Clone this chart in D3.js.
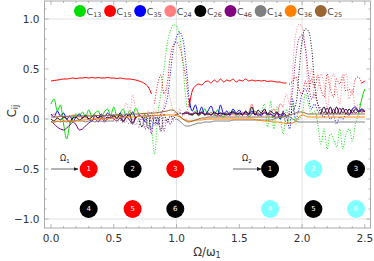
<!DOCTYPE html>
<html>
<head>
<meta charset="utf-8">
<script src="https://cdn.jsdelivr.net/npm/d3@7"></script>
<style>
  body { margin: 0; background: #fff; }
  text { font-family: "DejaVu Sans", sans-serif; }
</style>
</head>
<body>
<script>
// chart size
var outerWidth = 374;
var outerHeight = 261;

var margin = {top: 1, right: 3.5, bottom: 33, left: 44.5},
    width = outerWidth - margin.left - margin.right,
    height = outerHeight - margin.top - margin.bottom;

// data: omega grid (step 0.025 from 0 to 2.5) and correlation series
var omega = d3.range(0, 101).map(function(i) { return i * 0.025; });

var c13 = [0.15,0.20,0.08,0.14,-0.05,-0.20,-0.05,0.02,0.05,0.03,
  0.07,0.02,0.09,0.03,0.06,0.08,0.02,0.07,0.10,0.04,
  0.12,0.03,0.06,0.10,0.02,0.08,0.04,0.11,0.05,0.02,
  0.06,-0.05,-0.12,-0.35,0.05,0.25,0.50,0.75,0.88,0.94,
  0.93,0.82,0.55,0.20,0.05,0.04,0.08,0.03,0.06,0.10,
  0.04,0.07,0.03,0.09,0.05,0.02,0.06,0.04,0.08,0.03,
  0.06,0.04,0.07,0.02,0.05,0.08,0.03,0.06,0.15,-0.08,
  0.18,-0.10,0.12,0.02,-0.15,0.10,-0.05,0.15,-0.05,0.00,
  0.05,0.25,0.15,0.05,0.08,-0.05,-0.25,-0.10,-0.30,-0.15,
  -0.20,-0.28,-0.10,-0.30,-0.15,-0.10,-0.22,-0.05,0.05,0.20,
  0.30];
var c15 = [0.38,0.385,0.39,0.395,0.40,0.40,0.405,0.41,0.405,0.41,
  0.41,0.415,0.41,0.415,0.41,0.415,0.41,0.41,0.415,0.41,
  0.41,0.405,0.41,0.405,0.40,0.40,0.395,0.39,0.38,0.37,
  0.35,0.32,0.25,0.16,0.35,0.44,0.25,0.35,0.62,0.74,
  0.77,0.72,0.58,0.40,0.12,0.28,0.33,0.35,0.34,0.37,
  0.38,0.36,0.39,0.37,0.40,0.37,0.39,0.38,0.40,0.37,
  0.39,0.38,0.40,0.38,0.39,0.38,0.385,0.38,0.385,0.375,
  0.38,0.375,0.37,0.37,0.36,0.36,0.35,0.38,0.42,0.30,
  0.25,0.38,0.28,0.40,0.32,0.44,0.30,0.22,0.45,0.30,
  0.22,0.40,0.35,0.44,0.28,0.30,0.25,0.40,0.42,0.36,
  0.38];
var c35 = [0.05,0.02,0.08,0.03,0.06,0.00,0.03,-0.02,0.02,0.05,
  0.01,0.04,0.00,-0.02,0.03,0.01,0.05,0.02,0.06,0.03,
  0.04,0.00,0.06,0.02,0.05,0.03,0.07,0.01,0.04,0.02,
  -0.03,0.05,-0.10,0.04,-0.05,0.06,0.10,0.20,0.45,0.70,
  0.82,0.87,0.80,0.55,0.20,0.08,0.14,0.05,0.12,0.04,
  0.08,0.13,0.05,0.03,0.14,0.05,0.08,0.04,0.10,0.06,
  0.09,0.04,0.07,0.05,0.08,0.04,0.06,0.03,0.07,0.05,
  0.05,0.02,0.06,0.00,0.05,0.02,-0.10,0.20,0.00,0.10,
  0.25,0.30,0.22,0.10,0.15,0.08,0.05,0.02,0.06,0.00,
  0.03,-0.05,0.02,0.00,0.06,0.04,0.10,0.12,0.08,0.10,
  0.08];
var c24 = [0.03,0.05,0.02,0.04,0.01,0.03,0.02,0.04,0.03,0.02,
  0.03,0.01,0.04,0.02,0.03,0.01,0.02,0.03,0.01,0.02,
  0.02,0.05,0.01,0.08,0.16,0.04,0.24,0.10,0.03,0.05,
  0.02,0.08,-0.02,0.10,0.05,0.03,0.15,0.30,0.20,0.08,
  0.05,0.10,0.03,0.06,0.04,0.05,0.07,0.04,0.06,0.05,
  0.04,0.06,0.05,0.03,0.06,0.04,0.05,0.07,0.04,0.05,
  0.06,0.04,0.05,0.07,0.15,0.05,0.06,0.04,0.08,0.05,
  0.06,0.10,0.05,0.15,0.12,0.25,0.15,0.50,0.85,0.95,
  0.92,0.70,0.35,0.50,0.20,0.30,0.45,0.35,0.10,0.35,
  0.45,0.30,0.15,0.40,0.45,0.20,0.30,0.10,0.15,0.10,
  0.08];
var c26 = [0.00,-0.02,0.01,-0.01,0.02,0.00,-0.03,0.01,0.02,-0.01,
  0.01,0.03,0.00,0.02,0.04,0.01,0.03,0.00,0.02,0.01,
  0.03,0.01,0.04,-0.02,0.02,0.05,-0.04,0.03,0.00,-0.08,
  0.04,-0.10,0.06,-0.05,0.02,-0.12,0.05,-0.03,0.03,0.00,
  0.05,0.06,0.05,0.06,0.05,0.04,0.06,0.05,0.07,0.04,
  0.06,0.04,0.07,0.05,0.06,0.05,0.04,0.06,0.07,0.05,
  0.06,0.04,0.08,0.05,0.12,0.04,0.09,0.06,0.10,0.05,
  0.08,0.05,0.07,0.04,0.06,0.03,0.05,0.08,0.15,0.45,
  0.78,0.90,0.88,0.72,0.35,0.15,0.05,0.12,0.05,0.12,
  0.05,0.12,0.05,0.11,0.05,0.10,0.06,0.10,0.07,0.09,
  0.07];
var c46 = [-0.02,-0.05,-0.08,-0.10,-0.11,-0.09,-0.06,-0.03,-0.06,-0.11,
  -0.10,-0.07,-0.04,-0.02,0.00,-0.03,0.01,-0.02,0.00,0.02,
  0.00,-0.02,0.01,-0.03,0.02,-0.01,-0.05,0.03,-0.08,0.02,
  -0.10,0.04,-0.15,0.02,-0.06,0.05,-0.12,0.00,-0.05,0.03,
  0.04,0.06,0.05,0.07,0.06,0.05,0.06,0.04,0.06,0.05,
  0.05,0.04,0.06,0.05,0.03,0.06,0.05,0.04,0.06,0.05,
  0.04,0.06,0.05,0.04,0.06,0.05,0.04,0.05,0.06,0.04,
  0.05,0.03,0.06,0.02,0.08,-0.05,0.10,0.30,0.62,0.80,
  0.84,0.72,0.45,0.20,0.25,0.15,0.10,0.06,0.11,0.05,
  0.10,0.05,0.11,0.06,0.10,0.05,0.09,0.06,0.08,0.07,
  0.08];
var c14 = [-0.03,-0.03,-0.02,-0.03,-0.02,-0.03,-0.02,-0.03,-0.02,-0.02,
  -0.02,-0.03,-0.02,-0.02,-0.03,-0.02,-0.02,-0.03,-0.02,-0.02,
  -0.02,-0.03,-0.01,-0.04,-0.02,-0.05,0.00,-0.06,-0.01,-0.08,
  0.01,-0.10,-0.02,-0.07,0.02,-0.12,-0.03,0.00,-0.05,-0.02,
  0.00,-0.02,-0.05,-0.07,-0.07,-0.06,-0.05,-0.04,-0.04,-0.03,
  -0.03,-0.03,-0.02,-0.02,-0.02,-0.02,-0.02,-0.02,-0.01,-0.01,
  -0.01,-0.01,-0.01,-0.01,-0.01,-0.01,-0.01,-0.01,-0.01,-0.01,
  -0.01,0.00,0.01,0.02,0.03,0.03,0.02,0.00,-0.02,-0.03,
  -0.03,-0.03,-0.03,-0.03,-0.03,-0.03,-0.03,-0.03,-0.03,-0.03,
  -0.03,-0.03,-0.03,-0.03,-0.03,-0.03,-0.03,-0.03,-0.03,-0.03,
  -0.03];
var c36 = [-0.03,-0.03,-0.025,-0.025,-0.02,-0.02,-0.02,-0.015,-0.015,-0.01,
  -0.01,-0.01,-0.005,-0.005,0.00,0.00,0.00,0.005,0.005,0.01,
  0.01,0.01,0.015,0.015,0.02,0.02,0.02,0.025,0.025,0.03,
  0.03,0.03,0.03,0.035,0.035,0.04,0.04,0.04,0.04,0.04,
  0.035,0.02,0.00,-0.01,-0.02,-0.02,-0.015,-0.01,-0.01,-0.005,
  0.00,0.00,0.00,0.00,0.00,0.00,0.00,0.00,0.00,0.00,
  0.00,0.00,0.00,0.00,0.00,-0.005,-0.01,-0.015,-0.02,-0.02,
  -0.025,-0.03,-0.03,-0.035,-0.04,-0.045,-0.045,-0.04,-0.02,0.02,
  0.04,0.03,0.02,0.02,0.02,0.02,0.02,0.02,0.02,0.02,
  0.02,0.02,0.02,0.02,0.02,0.02,0.02,0.02,0.02,0.02,
  0.02];
var c25 = [0.02,0.02,0.02,0.025,0.025,0.025,0.03,0.03,0.03,0.03,
  0.03,0.03,0.03,0.03,0.035,0.035,0.035,0.035,0.035,0.04,
  0.04,0.04,0.04,0.04,0.045,0.045,0.05,0.05,0.05,0.055,
  0.055,0.06,0.06,0.06,0.065,0.07,0.075,0.08,0.09,0.09,
  0.06,0.03,0.00,-0.02,-0.03,-0.02,-0.01,0.00,0.01,0.01,
  0.02,0.02,0.02,0.02,0.02,0.02,0.02,0.02,0.02,0.02,
  0.02,0.02,0.02,0.02,0.02,0.02,0.02,0.02,0.02,0.02,
  0.02,0.02,0.02,0.02,0.02,0.03,0.04,0.05,0.06,0.07,
  0.07,0.06,0.05,0.05,0.05,0.05,0.05,0.05,0.05,0.05,
  0.05,0.05,0.05,0.05,0.05,0.05,0.05,0.05,0.05,0.05,
  0.05];

var seriesNames = ["13","15","35","24","26","46","14","36","25"];
var seriesValues = [c13, c15, c35, c24, c26, c46, c14, c36, c25];
// omega ranges where each series is drawn as scattered dots
var dottedRanges = [
  [[0.75, 1.125], [1.675, 2.45]],
  [[0.825, 1.1], [1.9, 2.475]],
  [[0.75, 1.1], [1.85, 2.35]],
  [[0.55, 1.1], [1.85, 2.5]],
  [[0.7, 1.05], [1.9, 2.15]],
  [[0.7, 1.05], [1.85, 2.15]],
  [[0.5, 1.0]],
  [],
  []
];

// qubit diagram: omega position, row value, node number, state
var nodeOmega = [0.3, 0.65, 0.99, 0.3, 0.65, 0.99,
                 1.745, 2.09, 2.43, 1.745, 2.09, 2.43];
var nodeRow = [-0.5, -0.5, -0.5, -0.9, -0.9, -0.9,
               -0.5, -0.5, -0.5, -0.9, -0.9, -0.9];
var nodeNumber = [1, 2, 3, 4, 5, 6, 1, 2, 3, 4, 5, 6];
var nodeState = ["a", "b", "a", "b", "a", "b", "b", "c", "b", "c", "b", "c"];
var arrowFrom = [0.0, 1.45];
var arrowTo = [0.215, 1.675];
var arrowLabel = ["1", "2"];

var xTicks = [0.0, 0.5, 1.0, 1.5, 2.0, 2.5];
var yTicks = [-1.0, -0.5, 0.0, 0.5, 1.0];

var colors = ["#00dd00", "#ff0000", "#0000ff", "#ff8080", "#000000",
              "#800080", "#808080", "#ff8000", "#996633"];
var stateColor = d3.scaleOrdinal().domain(["a", "b", "c"])
    .range(["#ff0000", "#000000", "#80ffff"]);

// scales
var x = d3.scaleLinear().domain([-0.052, 2.545]).range([0, width]);
var y = d3.scaleLinear().domain([-1.09, 1.18]).range([height, 0]);

var svg = d3.select("body").append("svg")
    .attr("width", outerWidth)
    .attr("height", outerHeight);

var g = svg.append("g")
    .attr("transform", "translate(" + margin.left + "," + margin.top + ")");

// grid lines
g.selectAll(".hgrid").data([-1, 0, 1]).enter().append("line")
    .attr("x1", 0).attr("x2", width)
    .attr("y1", function(d) { return y(d); }).attr("y2", function(d) { return y(d); })
    .attr("stroke", "#e2e2e2").attr("stroke-width", 1);
g.selectAll(".vgrid").data([1, 2]).enter().append("line")
    .attr("y1", 0).attr("y2", height)
    .attr("x1", function(d) { return x(d); }).attr("x2", function(d) { return x(d); })
    .attr("stroke", "#e2e2e2").attr("stroke-width", 1);

var plot = g.append("g").attr("clip-path", "url(#clip)");
svg.append("defs").append("clipPath").attr("id", "clip")
  .append("rect").attr("width", width).attr("height", height);

function inside(v, ranges) {
  return ranges.some(function(r) { return v > r[0] && v < r[1]; });
}
function onRange(v, ranges) {
  return ranges.some(function(r) { return v >= r[0] - 1e-9 && v <= r[1] + 1e-9; });
}

seriesValues.forEach(function(vals, k) {
  var pts = omega.map(function(o, i) { return [o, vals[i]]; });
  var ranges = dottedRanges[k];
  var solid = d3.line()
      .defined(function(d) { return !inside(d[0], ranges); })
      .x(function(d) { return x(d[0]); })
      .y(function(d) { return y(d[1]); })
      .curve(d3.curveMonotoneX);
  plot.append("path").datum(pts)
      .attr("d", solid)
      .attr("fill", "none")
      .attr("stroke", colors[k])
      .attr("stroke-width", 1);
  if (ranges.length) {
    var dotted = d3.line()
        .defined(function(d) { return onRange(d[0], ranges); })
        .x(function(d) { return x(d[0]); })
        .y(function(d) { return y(d[1]); })
        .curve(d3.curveCatmullRom);
    plot.append("path").datum(pts)
        .attr("d", dotted)
        .attr("fill", "none")
        .attr("stroke", colors[k])
        .attr("stroke-width", 1.2)
        .attr("stroke-linecap", "round")
        .attr("stroke-opacity", 0.85)
        .attr("stroke-dasharray", "0.01,2.6");
  }
});

// arrows and labels for the drive frequencies
svg.append("defs").append("marker")
    .attr("id", "arrow").attr("viewBox", "0 0 10 10")
    .attr("refX", 9).attr("refY", 5)
    .attr("markerWidth", 6).attr("markerHeight", 6)
    .attr("orient", "auto")
  .append("path").attr("d", "M0,1 L10,5 L0,9 Z").attr("fill", "#222");

arrowFrom.forEach(function(a, i) {
  g.append("line")
      .attr("x1", x(a)).attr("x2", x(arrowTo[i]))
      .attr("y1", y(-0.5)).attr("y2", y(-0.5))
      .attr("stroke", "#444").attr("stroke-width", 0.8)
      .attr("marker-end", "url(#arrow)");
  var t = g.append("text")
      .attr("x", x(a) + 9).attr("y", y(-0.42))
      .attr("font-size", 8).attr("fill", "#222");
  t.append("tspan").text("\u03A9");
  t.append("tspan").attr("font-size", 5.5).attr("dy", 1.5).text(arrowLabel[i]);
});

// nodes
var nodes = g.selectAll(".node").data(nodeOmega).enter().append("g")
    .attr("transform", function(d, i) { return "translate(" + x(d) + "," + y(nodeRow[i]) + ")"; });
nodes.append("circle").attr("r", 9)
    .attr("fill", function(d, i) { return stateColor(nodeState[i]); });
nodes.append("text")
    .attr("text-anchor", "middle").attr("dy", "0.35em")
    .attr("font-size", 7).attr("fill", "#fff")
    .text(function(d, i) { return nodeNumber[i]; });

// frame
g.append("rect").attr("width", width).attr("height", height)
    .attr("fill", "none").attr("stroke", "#aaa").attr("stroke-width", 1);

// ticks (major + minor) on all sides
var xMinor = d3.range(0, 26).map(function(i) { return i * 0.1; });
var yMinor = d3.range(-10, 12).map(function(i) { return i * 0.1; });
function tickLen(v) { return Math.abs(v * 2 - Math.round(v * 2)) < 1e-6 ? 4 : 2; }
xMinor.forEach(function(v) {
  var l = tickLen(v);
  g.append("line").attr("x1", x(v)).attr("x2", x(v)).attr("y1", height).attr("y2", height - l)
      .attr("stroke", "#999").attr("stroke-width", 0.7);
  g.append("line").attr("x1", x(v)).attr("x2", x(v)).attr("y1", 0).attr("y2", l)
      .attr("stroke", "#999").attr("stroke-width", 0.7);
});
yMinor.forEach(function(v) {
  var l = tickLen(v);
  g.append("line").attr("x1", 0).attr("x2", l).attr("y1", y(v)).attr("y2", y(v))
      .attr("stroke", "#999").attr("stroke-width", 0.7);
  g.append("line").attr("x1", width).attr("x2", width - l).attr("y1", y(v)).attr("y2", y(v))
      .attr("stroke", "#999").attr("stroke-width", 0.7);
});

// tick labels
g.selectAll(".xl").data(xTicks).enter().append("text")
    .attr("x", function(d) { return x(d); }).attr("y", height + 14)
    .attr("text-anchor", "middle").attr("font-size", 10.5).attr("fill", "#333")
    .text(function(d) { return d.toFixed(1); });
g.selectAll(".yl").data(yTicks).enter().append("text")
    .attr("x", -5).attr("y", function(d) { return y(d); }).attr("dy", "0.35em")
    .attr("text-anchor", "end").attr("font-size", 10.5).attr("fill", "#333")
    .text(function(d) { return (d < 0 ? "\u2212" : "") + Math.abs(d).toFixed(1); });

// axis labels
var xl = svg.append("text").attr("x", 207).attr("y", 256)
    .attr("text-anchor", "middle").attr("font-size", 11.5).attr("fill", "#333");
xl.append("tspan").text("\u03A9/\u03C9");
xl.append("tspan").attr("font-size", 8).attr("dy", 2).text("1");

var yl = svg.append("text")
    .attr("transform", "translate(16,111) rotate(-90)")
    .attr("text-anchor", "middle").attr("font-size", 11.5).attr("fill", "#333");
yl.append("tspan").text("C");
yl.append("tspan").attr("font-size", 8).attr("dy", 2).text("ij");

// legend
var legend = svg.selectAll(".leg").data(seriesNames).enter().append("g")
    .attr("transform", function(d, i) { return "translate(" + (80 + i * 30.1) + ",11)"; });
legend.append("circle").attr("r", 6)
    .attr("fill", function(d, i) { return colors[i]; });
var lt = legend.append("text").attr("x", 6.5).attr("y", 3.5)
    .attr("font-size", 9.5).attr("fill", "#444");
lt.append("tspan").text("C");
lt.append("tspan").attr("font-size", 6.5).attr("dy", 2).text(function(d) { return d; });
</script>
</body>
</html>
